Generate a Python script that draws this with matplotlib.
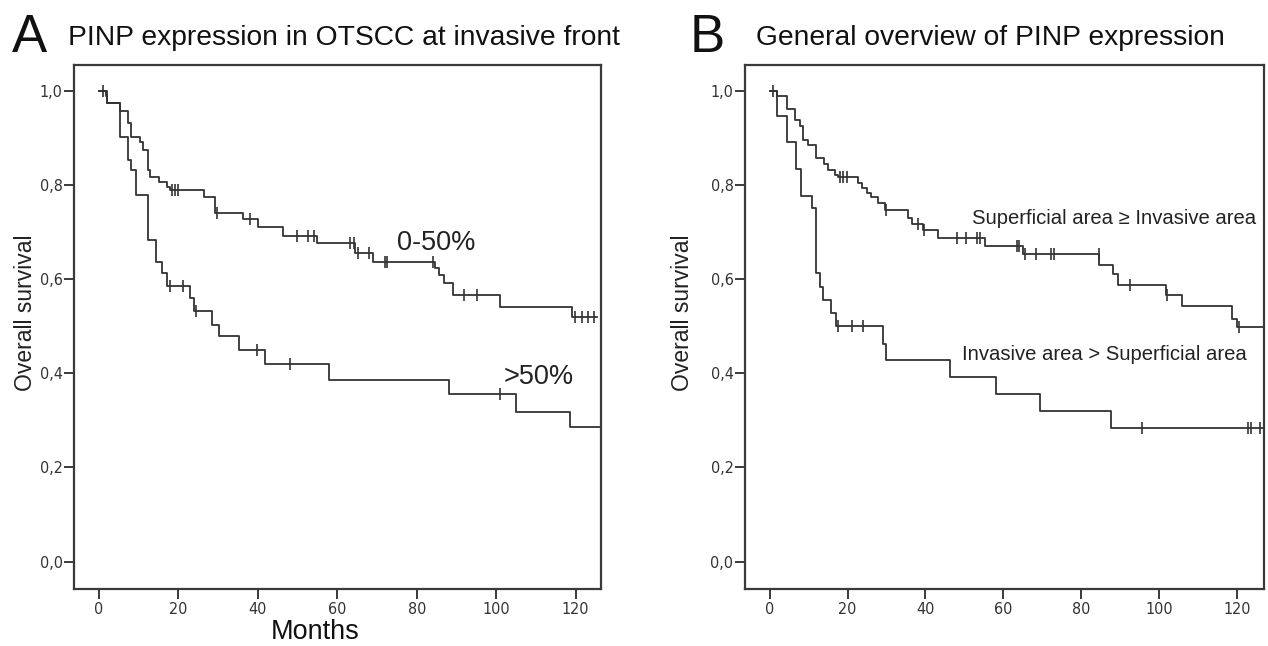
import numpy as np
import matplotlib
matplotlib.use('Agg')
import matplotlib.pyplot as plt

plt.rcParams['font.family'] = ['Liberation Sans', 'DejaVu Sans']

# --- Panel A: PINP expression at invasive front ---
a_hi_t = [1.7, 2.0, 5.3, 7.4, 8.1, 10.3, 11.0, 12.2, 12.8, 15.1, 17.0, 17.9, 26.3, 29.2,
          36.2, 40.1, 46.3, 55.0, 64.5, 69.1, 84.6, 85.5, 86.9, 89.1, 101.0, 119.1]
a_hi_s = [0.989, 0.973, 0.956, 0.930, 0.901, 0.891, 0.873, 0.831, 0.817, 0.806, 0.795, 0.788,
          0.774, 0.741, 0.728, 0.711, 0.692, 0.676, 0.656, 0.635, 0.623, 0.608, 0.591, 0.566,
          0.541, 0.519]
a_hi_cens = [1.0, 18.3, 19.1, 20.0, 29.8, 38.0, 49.9, 52.7, 54.0, 63.2, 64.1, 65.1, 68.0,
             72.0, 72.6, 84.2, 91.9, 95.1, 119.9, 121.6, 123.0, 124.7]
a_hi_end = 125.5

a_lo_t = [2.0, 5.3, 7.2, 8.1, 9.3, 12.2, 14.4, 15.8, 17.0, 22.9, 24.0, 28.4, 30.1, 35.3,
          41.8, 58.0, 88.0, 105.0, 118.6]
a_lo_s = [0.973, 0.901, 0.852, 0.831, 0.778, 0.683, 0.635, 0.612, 0.585, 0.559, 0.532, 0.503,
          0.478, 0.449, 0.419, 0.386, 0.355, 0.318, 0.285]
a_lo_cens = [17.9, 21.1, 24.3, 39.8, 48.0, 101.0]
a_lo_end = 126.5

# --- Panel B: general overview ---
b_hi_t = [1.8, 4.5, 6.5, 7.8, 8.6, 9.9, 11.9, 13.9, 15.1, 16.8, 17.6, 22.7, 23.6, 24.9, 25.9,
          27.9, 29.6, 35.4, 36.5, 39.4, 43.3, 55.2, 65.1, 84.6, 88.1, 89.4, 101.6, 105.7,
          118.6, 119.8]
b_hi_s = [0.989, 0.961, 0.938, 0.924, 0.896, 0.884, 0.857, 0.843, 0.832, 0.821, 0.816, 0.804,
          0.793, 0.782, 0.774, 0.761, 0.747, 0.729, 0.717, 0.705, 0.686, 0.669, 0.652, 0.630,
          0.610, 0.587, 0.566, 0.542, 0.516, 0.498]
b_hi_cens = [1.0, 18.1, 18.9, 19.8, 29.9, 38.1, 39.7, 48.2, 50.5, 53.2, 54.1, 63.4, 64.1, 65.4,
             68.3, 72.3, 72.9, 84.4, 92.4, 102.0, 120.3]
b_hi_end = 126.8

b_lo_t = [1.8, 4.5, 6.8, 8.0, 11.0, 11.8, 12.9, 13.8, 15.7, 17.0, 29.2, 30.0, 46.3, 58.2,
          69.3, 87.5]
b_lo_s = [0.945, 0.890, 0.833, 0.777, 0.750, 0.612, 0.584, 0.555, 0.527, 0.500, 0.462, 0.428,
          0.391, 0.355, 0.319, 0.283]
b_lo_cens = [17.6, 21.1, 24.0, 95.4, 122.7, 123.4, 125.7]
b_lo_end = 126.8

xticks = [0, 20, 40, 60, 80, 100, 120]
yticks = [0.0, 0.2, 0.4, 0.6, 0.8, 1.0]
ytick_labels = ['0,0', '0,2', '0,4', '0,6', '0,8', '1,0']

INK = '#333333'


def km(ax, t, s, cens, end):
    tt = np.concatenate([[0.0], t, [end]])
    ss = np.concatenate([[1.0], s, [s[-1]]])
    ax.step(tt, ss, where='post', color=INK, lw=1.3)
    idx = np.searchsorted(tt, cens, side='right') - 1
    ax.plot(cens, ss[idx], ls='none', marker='|', ms=8, mew=1.2, color=INK)


def style_axes(ax, xlim, label_x):
    ax.set_xlim(*xlim)
    ax.set_ylim(-0.058, 1.055)
    ax.set_xticks(xticks)
    ax.set_yticks(yticks)
    ax.set_yticklabels(ytick_labels)
    for sp in ax.spines.values():
        sp.set_color('#3a3a3a')
        sp.set_linewidth(1.6)
    ax.tick_params(direction='out', length=7.5, width=1.4, color='#3a3a3a',
                   labelsize=11.5, labelcolor='#333333', pad=2)
    ax.tick_params(axis='y', pad=0.8)
    for lbl in ax.get_xticklabels() + ax.get_yticklabels():
        lbl.set_family('DejaVu Sans')
        lbl.set_stretch('condensed')
    ax.set_ylabel('Overall survival', fontsize=16.5, color='#222222')
    ax.yaxis.set_label_coords(label_x, 0.526)


fig = plt.figure(figsize=(12.68, 6.46), dpi=100)
axA = fig.add_axes([0.0584, 0.0882, 0.4156, 0.8118])
axB = fig.add_axes([0.5875, 0.0882, 0.4093, 0.8118])

km(axA, a_hi_t, a_hi_s, a_hi_cens, a_hi_end)
km(axA, a_lo_t, a_lo_s, a_lo_cens, a_lo_end)
style_axes(axA, (-6.3, 126.4), -0.070)
axA.set_xlabel('Months', fontsize=19.5, color='#111111')
axA.xaxis.set_label_coords(0.457, -0.058)
axA.text(75.1, 0.676, '0-50%', fontsize=19.5, va='center', ha='left', color='#222222')
axA.text(101.8, 0.392, '>50%', fontsize=19.5, va='center', ha='left', color='#222222')

km(axB, b_hi_t, b_hi_s, b_hi_cens, b_hi_end)
km(axB, b_lo_t, b_lo_s, b_lo_cens, b_lo_end)
style_axes(axB, (-6.3, 126.8), -0.098)
axB.text(51.9, 0.728, 'Superficial area \u2265 Invasive area', fontsize=14.6,
         va='center', ha='left', color='#222222')
axB.text(49.4, 0.439, 'Invasive area > Superficial area', fontsize=14.6,
         va='center', ha='left', color='#222222')

W, H = 1268.0, 646.0
fig.text(12 / W, 1 - 38 / H, 'A', fontsize=38, va='center', ha='left', color='#111111')
fig.text(68 / W, 1 - 38 / H, 'PINP expression in OTSCC at invasive front', fontsize=20.3,
         va='center', ha='left', color='#111111')
fig.text(690 / W, 1 - 38 / H, 'B', fontsize=38, va='center', ha='left', color='#111111')
fig.text(756 / W, 1 - 38 / H, 'General overview of PINP expression', fontsize=20.3,
         va='center', ha='left', color='#111111')

fig.savefig('out.png', dpi=100, facecolor='white')
